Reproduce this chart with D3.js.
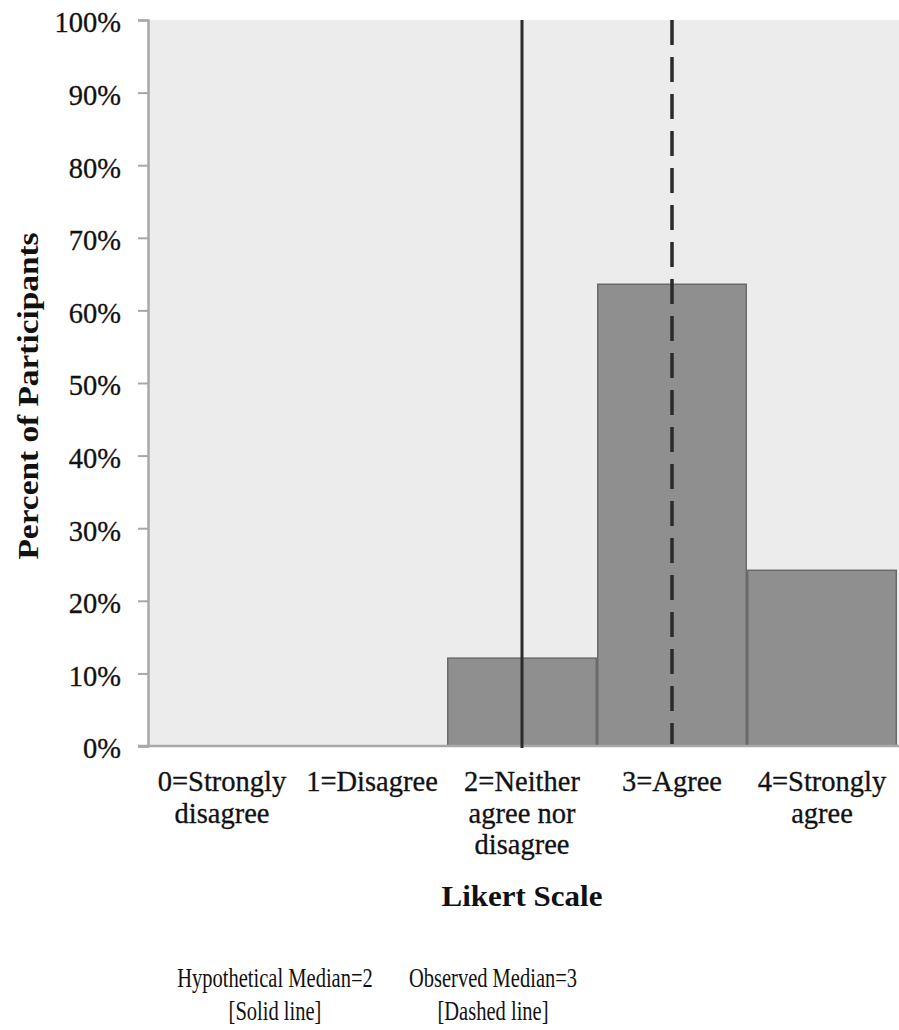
<!DOCTYPE html>
<html>
<head>
<meta charset="utf-8">
<script src="https://cdn.jsdelivr.net/npm/d3@7"></script>
<style>
  body { margin: 0; background: #fff; }
  svg { display: block; }
  text { font-family: "Liberation Serif", "Times New Roman", serif; fill: #111; }
</style>
</head>
<body>
<svg id="chart" width="899" height="1030"></svg>
<script>
// ---- data ----
const categories = ["0=Strongly disagree", "1=Disagree", "2=Neither agree nor disagree", "3=Agree", "4=Strongly agree"];
const categoryLines = [["0=Strongly", "disagree"], ["1=Disagree"], ["2=Neither", "agree nor", "disagree"], ["3=Agree"], ["4=Strongly", "agree"]];
const percentValues = [0, 0, 12.1, 63.6, 24.2];
const yTicks = [0, 10, 20, 30, 40, 50, 60, 70, 80, 90, 100];
const hypotheticalMedian = 2;
const observedMedian = 3;
const footnotes = [
  ["Hypothetical Median=2", "[Solid line]"],
  ["Observed Median=3", "[Dashed line]"]
];

// ---- layout ----
const svg = d3.select("#chart");
const mLeft = 147, mRight = 897, mTop = 20, mBottom = 746;

const x = d3.scaleBand().domain(categories).range([mLeft, mRight]).paddingInner(0).paddingOuter(0);
const xMed = d3.scaleLinear().domain([0, 4]).range([mLeft + x.bandwidth() / 2, mRight - x.bandwidth() / 2]);
const y = d3.scaleLinear().domain([0, 100]).range([mBottom, mTop]);

// plot background
svg.append("rect")
  .attr("x", mLeft + 2).attr("y", y(100))
  .attr("width", 899 - mLeft - 2).attr("height", y(0) - y(100))
  .attr("fill", "#ececec");

// bars
svg.append("g").selectAll("rect")
  .data(categories.map((c, i) => ({ c, v: percentValues[i] })).filter(d => d.v > 0))
  .join("rect")
  .attr("x", d => x(d.c) + 0.75)
  .attr("y", d => y(d.v))
  .attr("width", x.bandwidth() - 1.5)
  .attr("height", d => y(0) - y(d.v))
  .attr("fill", "#8f8f8f")
  .attr("stroke", "#6a6a6a")
  .attr("stroke-width", 1.5);

// y axis
const yAxis = d3.axisLeft(y).tickValues(yTicks).tickFormat(d => d + "%").tickSize(10).tickPadding(17);
const gy = svg.append("g").attr("transform", `translate(${mLeft + 1},0)`).call(yAxis);
gy.select(".domain").attr("stroke", "#a8a8a8").attr("stroke-width", 2.5);
gy.selectAll(".tick line").attr("stroke", "#a8a8a8").attr("stroke-width", 2);
gy.selectAll(".tick text")
  .attr("font-size", 28.5)
  .attr("font-family", "Liberation Serif, serif")
  .attr("fill", "#111")
  .attr("stroke", "#111").attr("stroke-width", 0.3)
  .attr("dy", "0.42em");

// x axis baseline
svg.append("line")
  .attr("x1", mLeft - 9).attr("x2", 899)
  .attr("y1", y(0)).attr("y2", y(0))
  .attr("stroke", "#a8a8a8").attr("stroke-width", 2.5);

// category labels
const catG = svg.append("g");
categories.forEach((c, i) => {
  const t = catG.append("text")
    .attr("text-anchor", "middle")
    .attr("font-size", 28.5)
    .attr("stroke", "#111").attr("stroke-width", 0.3)
    .attr("x", x(c) + x.bandwidth() / 2)
    .attr("y", mBottom + 45);
  categoryLines[i].forEach((ln, j) => {
    t.append("tspan")
      .attr("x", x(c) + x.bandwidth() / 2)
      .attr("dy", j === 0 ? 0 : 31.5)
      .text(ln);
  });
});

// median lines
svg.append("line")
  .attr("x1", xMed(hypotheticalMedian)).attr("x2", xMed(hypotheticalMedian))
  .attr("y1", y(100)).attr("y2", y(0) + 2)
  .attr("stroke", "#2b2b2b").attr("stroke-width", 3);
svg.append("line")
  .attr("x1", xMed(observedMedian)).attr("x2", xMed(observedMedian))
  .attr("y1", y(100)).attr("y2", y(0) - 2)
  .attr("stroke", "#2b2b2b").attr("stroke-width", 3.5)
  .attr("stroke-dasharray", "25,12");

// axis titles
svg.append("text")
  .attr("transform", `translate(38,396) rotate(-90)`)
  .attr("text-anchor", "middle")
  .attr("font-size", 30).attr("font-weight", "bold")
  .attr("textLength", 327).attr("lengthAdjust", "spacingAndGlyphs")
  .text("Percent of Participants");

svg.append("text")
  .attr("x", 522).attr("y", 906)
  .attr("text-anchor", "middle")
  .attr("font-size", 30).attr("font-weight", "bold")
  .attr("textLength", 161).attr("lengthAdjust", "spacingAndGlyphs")
  .text("Likert Scale");

// footnotes
const footX = [275, 493];
footnotes.forEach((lines, i) => {
  lines.forEach((ln, j) => {
    svg.append("text")
      .attr("transform", `translate(${footX[i]},${987 + j * 33}) scale(0.76,1)`)
      .attr("text-anchor", "middle")
      .attr("font-size", 27)
      .attr("fill", "#000")
      .text(ln);
  });
});
</script>
</body>
</html>
